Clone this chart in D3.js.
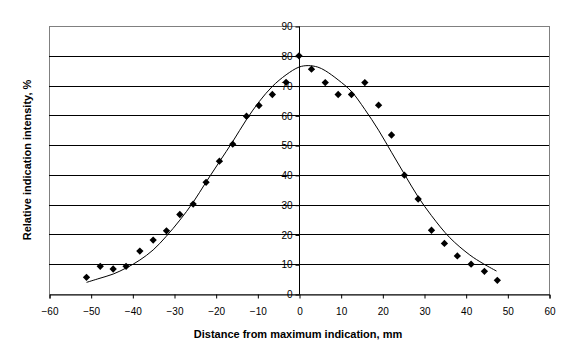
<!DOCTYPE html>
<html>
<head>
<meta charset="utf-8">
<script src="https://cdn.jsdelivr.net/npm/d3@7"></script>
<style>
  html, body { margin: 0; padding: 0; background: #fff; }
  svg { display: block; font-family: "Liberation Sans", Arial, sans-serif; }
</style>
</head>
<body>
<svg id="chart" width="576" height="360"></svg>
<script>
// Measured points
const pointX = [-51.0, -47.7, -44.6, -41.5, -38.2, -35.0, -31.8, -28.6, -25.4, -22.3, -19.1, -15.9, -12.6, -9.6, -6.4, -3.1, 0,
                3.0, 6.3, 9.4, 12.6, 15.8, 19.1, 22.2, 25.3, 28.6, 31.8, 34.9, 38.0, 41.3, 44.5, 47.6];
const pointY = [5.6, 9.3, 8.4, 9.3, 14.4, 18.1, 21.2, 26.7, 30.2, 37.5, 44.6, 50.3, 59.7, 63.3, 67.0, 71.1, 80.0,
                75.5, 71.0, 67.0, 67.0, 71.0, 63.4, 53.4, 39.9, 31.9, 21.4, 17.0, 12.8, 10.0, 7.6, 4.6];

// Fitted curve
const curveX = [-51.0, -48.0, -44.6, -41.4, -38.2, -35.0, -31.9, -28.6, -25.4, -22.3, -19.1, -15.9, -12.6, -9.5, -6.4, -3.1, 0,
                2.2, 4.5, 6.3, 9.4, 12.6, 15.8, 19.1, 22.2, 25.4, 28.6, 31.8, 36.2, 41.0, 44.2, 47.4];
const curveY = [3.9, 5.2, 6.7, 8.8, 11.4, 14.8, 19.3, 24.8, 30.8, 37.6, 44.4, 51.2, 58.6, 64.7, 69.7, 73.6, 76.2,
                76.7, 76.2, 75.0, 71.9, 68.0, 62.0, 55.0, 47.6, 40.0, 32.6, 26.3, 18.9, 13.1, 10.2, 7.7];

const xTicks = [-60, -50, -40, -30, -20, -10, 0, 10, 20, 30, 40, 50, 60];
const yTicks = [0, 10, 20, 30, 40, 50, 60, 70, 80, 90];
const xTitle = "Distance from maximum indication, mm";
const yTitle = "Relative indication intensity, %";

const svg = d3.select("#chart");
const L = 49, R = 549, T = 26, B = 294;

const x = d3.scaleLinear().domain([-60, 60]).range([L, R]);
const y = d3.scaleLinear().domain([0, 90]).range([B, T]);

// Plot area border (grey)
svg.append("rect").attr("x", L + 0.5).attr("y", T + 0.5)
  .attr("width", R - L).attr("height", B - T)
  .attr("fill", "#fff").attr("stroke", "#808080").attr("stroke-width", 1);

// Horizontal gridlines
svg.append("g").selectAll("line").data(yTicks.filter(d => d > 0 && d < 90)).join("line")
  .attr("x1", L).attr("x2", R)
  .attr("y1", d => Math.round(y(d)) + 0.5).attr("y2", d => Math.round(y(d)) + 0.5)
  .attr("stroke", "#000").attr("stroke-width", 1);

// X axis at y=0
const xAxis = d3.axisBottom(x).tickValues(xTicks).tickSize(4).tickPadding(9)
  .tickFormat(d3.format("d"));
const gx = svg.append("g").attr("transform", `translate(0.5,${Math.round(y(0)) + 0.5})`).call(xAxis);
gx.select(".domain").attr("stroke", "#000");
gx.selectAll(".tick line").attr("stroke", "#000");
gx.selectAll("text").attr("font-size", "10px").attr("fill", "#000")
  .attr("font-family", "'Liberation Sans', Arial, sans-serif");

// Y axis at x=0
const yAxis = d3.axisLeft(y).tickValues(yTicks).tickSize(4).tickPadding(3)
  .tickFormat(d3.format("d"));
const gy = svg.append("g").attr("transform", `translate(${Math.round(x(0)) + 0.5},0.5)`).call(yAxis);
gy.select(".domain").attr("stroke", "#000").attr("d", `M0,${T}V${B}`);
gy.selectAll(".tick line").attr("stroke", "#000");
gy.selectAll("text").attr("font-size", "10px").attr("fill", "#000")
  .attr("font-family", "'Liberation Sans', Arial, sans-serif");

// Fitted curve
const pts = curveX.map((d, i) => [d, curveY[i]]);
svg.append("path").datum(pts)
  .attr("fill", "none").attr("stroke", "#000").attr("stroke-width", 1)
  .attr("d", d3.line().x(d => x(d[0])).y(d => y(d[1])).curve(d3.curveCatmullRom.alpha(0.5)));

// Diamond markers
const sym = d3.symbol().type(d3.symbolDiamond2).size(34);
svg.append("g").selectAll("path").data(pointX.map((d, i) => [d, pointY[i]])).join("path")
  .attr("transform", d => `translate(${x(d[0])},${y(d[1])})`)
  .attr("d", sym).attr("fill", "#000");

// Axis titles
svg.append("text").attr("x", 298).attr("y", 338).attr("text-anchor", "middle")
  .attr("font-size", "11px").attr("font-weight", "bold").text(xTitle);
svg.append("text").attr("transform", "translate(31,160) rotate(-90)").attr("text-anchor", "middle")
  .attr("font-size", "11px").attr("font-weight", "bold").text(yTitle);
</script>
</body>
</html>
